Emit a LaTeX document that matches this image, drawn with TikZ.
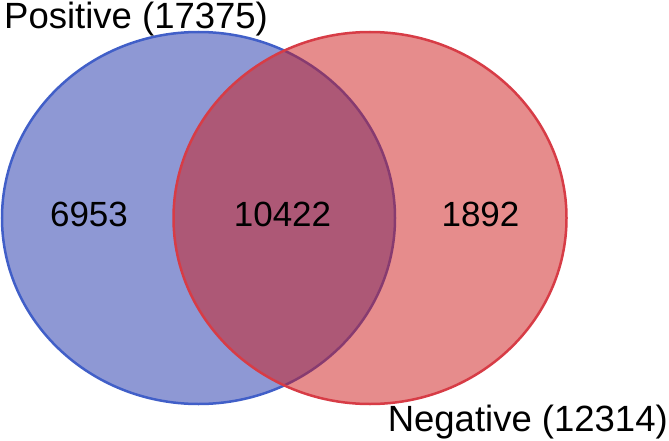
\documentclass[tikz,border=0pt]{standalone}
\usepackage{fontspec}
\setmainfont{Liberation Sans}
\usetikzlibrary{shapes.geometric, positioning}
\definecolor{posblue}{RGB}{30,50,170}
\definecolor{posline}{RGB}{65,95,200}
\definecolor{negred}{RGB}{205,25,25}
\definecolor{negline}{RGB}{215,60,70}
\tikzset{set/.style={ellipse, minimum width=393pt, minimum height=372pt, inner sep=0pt, line width=2.5pt, fill opacity=0.5}}
\tikzset{count/.style={font=\fontsize{35}{40}\selectfont, inner sep=0pt}}
\tikzset{setlabel/.style={font=\fontsize{36.5}{40}\selectfont, inner sep=0pt}}

\begin{document}
\begin{tikzpicture}[x=1pt, y=-1pt]
      \useasboundingbox (0,0) rectangle (669,441);
      \node[set, draw=posline, fill=posblue] (pos) at (198.5,218) {};
      \node[set, draw=negline, fill=negred]  (neg) at (370,218) {};

      \node[count] (posonly) at (89,214)    {6953};
      \node[count] (both)    at (282.5,214) {10422};
      \node[count] (negonly) at (480.5,214) {1892};

      \node[setlabel, anchor=north west] (poslabel) at (4,1.5)   {Positive (17375)};
      \node[setlabel, anchor=south east] (neglabel) at (668,439) {Negative (12314)};
    \end{tikzpicture}
\end{document}
